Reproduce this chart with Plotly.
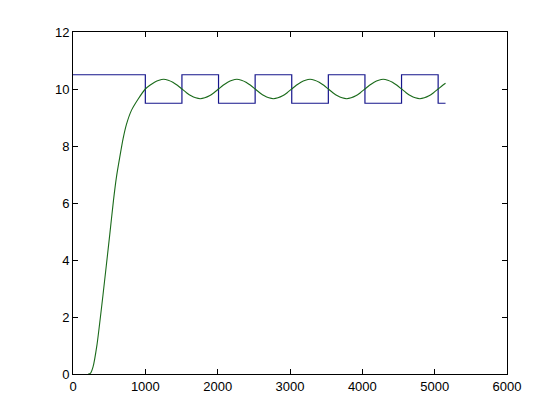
import plotly.graph_objects as go

# square wave (step edges)
square_x = [0, 1000, 1506, 2012, 2518, 3024, 3530, 4036, 4542, 5048, 5150]
square_y = [10.5, 9.5, 10.5, 9.5, 10.5, 9.5, 10.5, 9.5, 10.5, 9.5, 9.5]

# response curve: rise then oscillation
resp_x = [210, 240, 277, 332, 415, 508, 560, 600, 646, 692, 738, 808, 899,
          1000, 1063, 1127, 1190, 1253, 1316, 1380, 1443, 1506,
          1569, 1633, 1696, 1759, 1822, 1886, 1949, 2012,
          2075, 2139, 2202, 2265, 2328, 2392, 2455, 2518,
          2581, 2645, 2708, 2771, 2834, 2898, 2961, 3024,
          3087, 3151, 3214, 3277, 3340, 3404, 3467, 3530,
          3593, 3657, 3720, 3783, 3846, 3910, 3973, 4036,
          4099, 4163, 4226, 4289, 4352, 4416, 4479, 4542,
          4605, 4669, 4732, 4795, 4858, 4922, 4985, 5048,
          5111, 5150]
resp_y = [0, 0.02, 0.25, 1.03, 2.78, 4.89, 6.1, 6.9, 7.6, 8.25, 8.75, 9.25, 9.64,
          10.00, 10.13, 10.24, 10.31, 10.34, 10.31, 10.24, 10.13, 10.00,
          9.87, 9.76, 9.69, 9.66, 9.69, 9.76, 9.87, 10.00,
          10.13, 10.24, 10.31, 10.34, 10.31, 10.24, 10.13, 10.00,
          9.87, 9.76, 9.69, 9.66, 9.69, 9.76, 9.87, 10.00,
          10.13, 10.24, 10.31, 10.34, 10.31, 10.24, 10.13, 10.00,
          9.87, 9.76, 9.69, 9.66, 9.69, 9.76, 9.87, 10.00,
          10.13, 10.24, 10.31, 10.34, 10.31, 10.24, 10.13, 10.00,
          9.87, 9.76, 9.69, 9.66, 9.69, 9.76, 9.87, 10.00,
          10.13, 10.20]

x_ticks = [0, 1000, 2000, 3000, 4000, 5000, 6000]
y_ticks = [0, 2, 4, 6, 8, 10, 12]

fig = go.Figure()
fig.add_trace(go.Scatter(x=square_x, y=square_y, mode="lines",
                         line=dict(color="#16168c", width=1.2, shape="hv")))
fig.add_trace(go.Scatter(x=resp_x, y=resp_y, mode="lines",
                         line=dict(color="#1a6a1a", width=1.1, shape="spline", smoothing=0.6)))

axis_style = dict(showline=True, linecolor="black", linewidth=1, mirror="ticks",
                  ticks="inside", ticklen=5, tickcolor="black", showgrid=False,
                  zeroline=False, tickfont=dict(family="Liberation Sans, Arial", size=13, color="black"))

# page has an 8px body margin, so the figure is a bit smaller than the window
fig.update_layout(
    width=552, height=412,
    margin=dict(l=65, r=53, t=24, b=46),
    paper_bgcolor="white", plot_bgcolor="white",
    showlegend=False,
    xaxis=dict(range=[0, 6000], tickvals=x_ticks, **axis_style),
    yaxis=dict(range=[0, 12], tickvals=y_ticks, **axis_style),
)

fig.write_html("out.html")
